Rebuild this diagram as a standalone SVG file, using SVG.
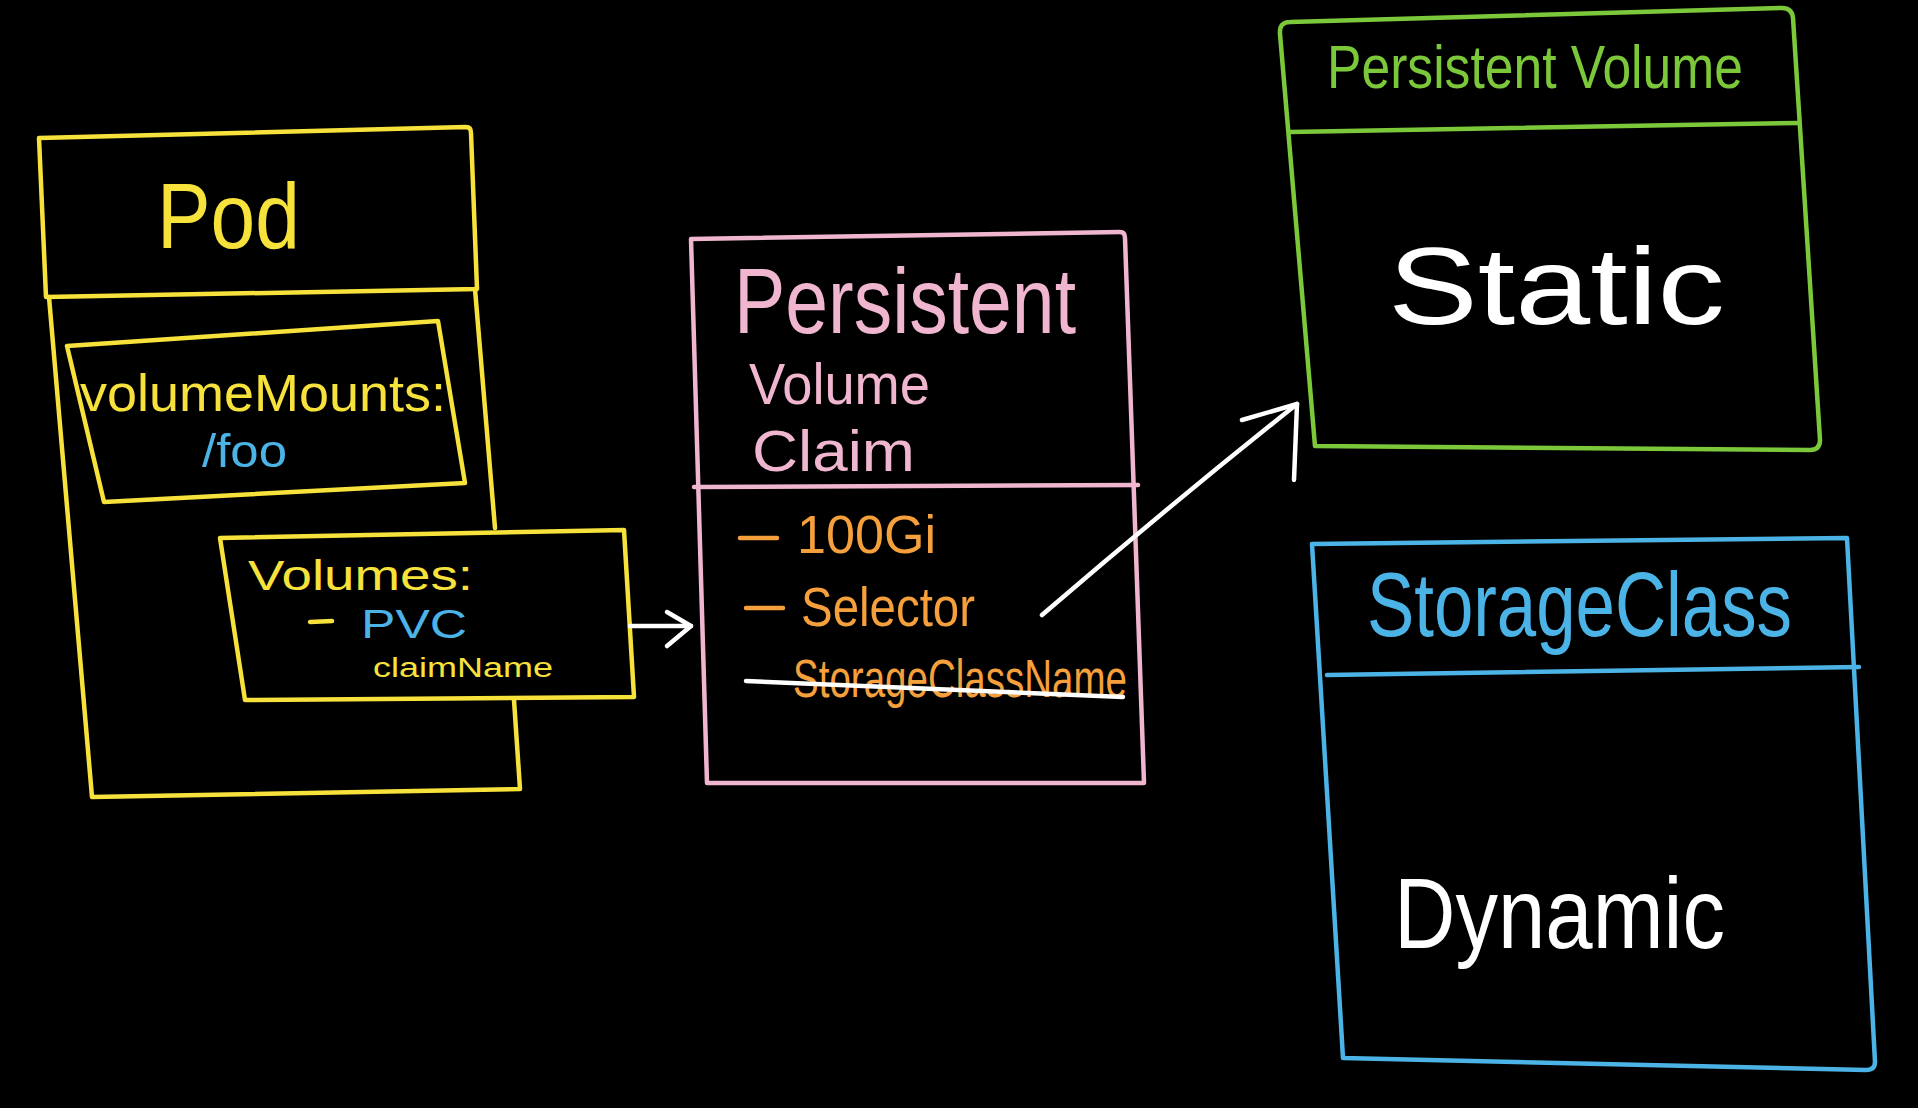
<svg xmlns="http://www.w3.org/2000/svg" width="1918" height="1108" viewBox="0 0 1918 1108">
<defs>
<style>
.box{fill:none;stroke-width:4.5;stroke-linejoin:round;stroke-linecap:round}
.y{stroke:#F7E23C}.p{stroke:#F0B6CF}.g{stroke:#7CC83B}.b{stroke:#4BB3E6}.w{stroke:#FFFFFF}
.t{font-family:"Liberation Sans","Open Sans",sans-serif}
.ty{fill:#F7E23C}.tp{fill:#F0B6CF}.tg{fill:#7CC83B}.tb{fill:#4BB3E6}.tw{fill:#FFFFFF}.to{fill:#F5A03C}
.conn{fill:none;stroke:#FFFFFF;stroke-width:4.5;stroke-linecap:round;stroke-linejoin:round}
</style>
</defs>
<rect width="1918" height="1108" fill="#000"/>

<g id="pod">
<path class="box y" d="M39,138 L466,127 Q471,127 471,133 L477,289 L46,297 Z"/>
<path class="box y" d="M49,297 L92,797 L520,789 L514,700"/>
<path class="box y" d="M475,289 L495,528"/>
<text class="t ty" x="157" y="248" font-size="92" textLength="143" lengthAdjust="spacingAndGlyphs">Pod</text>
</g>

<g id="volumeMounts">
<path class="box y" d="M67,346 L438,321 L465,483 L104,502 Z"/>
<text class="t ty" x="80" y="411" font-size="52" textLength="366" lengthAdjust="spacingAndGlyphs">volumeMounts:</text>
<text class="t tb" x="202" y="467" font-size="46" textLength="85" lengthAdjust="spacingAndGlyphs">/foo</text>
</g>

<g id="volumes">
<path class="box y" d="M220,538 L624,530 L634,697 L245,700 Z"/>
<text class="t ty" x="248" y="590" font-size="42" textLength="225" lengthAdjust="spacingAndGlyphs">Volumes:</text>
<path class="box y" d="M310,622 L332,621"/>
<text class="t tb" x="361" y="638" font-size="40" textLength="106" lengthAdjust="spacingAndGlyphs">PVC</text>
<text class="t ty" x="373" y="677" font-size="27" textLength="180" lengthAdjust="spacingAndGlyphs">claimName</text>
</g>

<g id="pvc">
<path class="box p" d="M691,239 L1120,232 Q1125,232 1125,238 L1144,783 L707,783 Z"/>
<path class="box p" d="M694,487 L1138,485"/>
<text class="t tp" x="734" y="333" font-size="92" textLength="342" lengthAdjust="spacingAndGlyphs">Persistent</text>
<text class="t tp" x="749" y="404" font-size="58" textLength="181" lengthAdjust="spacingAndGlyphs">Volume</text>
<text class="t tp" x="752" y="471" font-size="58" textLength="163" lengthAdjust="spacingAndGlyphs">Claim</text>
<path class="box" stroke="#F5A03C" d="M740,538 L777,538"/>
<text class="t to" x="797" y="553" font-size="54" textLength="139" lengthAdjust="spacingAndGlyphs">100Gi</text>
<path class="box" stroke="#F5A03C" d="M746,608 L783,608"/>
<text class="t to" x="801" y="626" font-size="56" textLength="174" lengthAdjust="spacingAndGlyphs">Selector</text>
<text class="t to" x="793" y="697" font-size="54" textLength="334" lengthAdjust="spacingAndGlyphs">StorageClassName</text>
<path class="box w" d="M746,681 L1123,697"/>
</g>

<g id="pv">
<path class="box g" d="M1290,22 L1782,8 Q1792,8 1793,18 L1820,440 Q1820,450 1810,450 L1315,446 L1280,34 Q1279,22 1290,22 Z"/>
<path class="box g" d="M1290,132 L1798,123"/>
<text class="t tg" x="1327" y="88" font-size="62" textLength="416" lengthAdjust="spacingAndGlyphs">Persistent Volume</text>
<text class="t tw" x="1388" y="324" font-size="110" textLength="337" lengthAdjust="spacingAndGlyphs">Static</text>
</g>

<g id="storageclass">
<path class="box b" d="M1312,544 L1847,538 L1875,1062 Q1875,1070 1866,1070 L1343,1058 Z"/>
<path class="box b" d="M1327,675 L1859,667"/>
<text class="t tb" x="1367" y="636" font-size="90" textLength="425" lengthAdjust="spacingAndGlyphs">StorageClass</text>
<text class="t tw" x="1394" y="948" font-size="100" textLength="331" lengthAdjust="spacingAndGlyphs">Dynamic</text>
</g>

<g id="connectors">
<path class="conn" d="M630,626 L691,626"/>
<path class="conn" d="M667,612 L691,626 L667,646"/>
<path class="conn" d="M1042,615 Q1170,505 1297,404"/>
<path class="conn" d="M1242,420 L1297,404 L1294,480"/>
</g>
</svg>
